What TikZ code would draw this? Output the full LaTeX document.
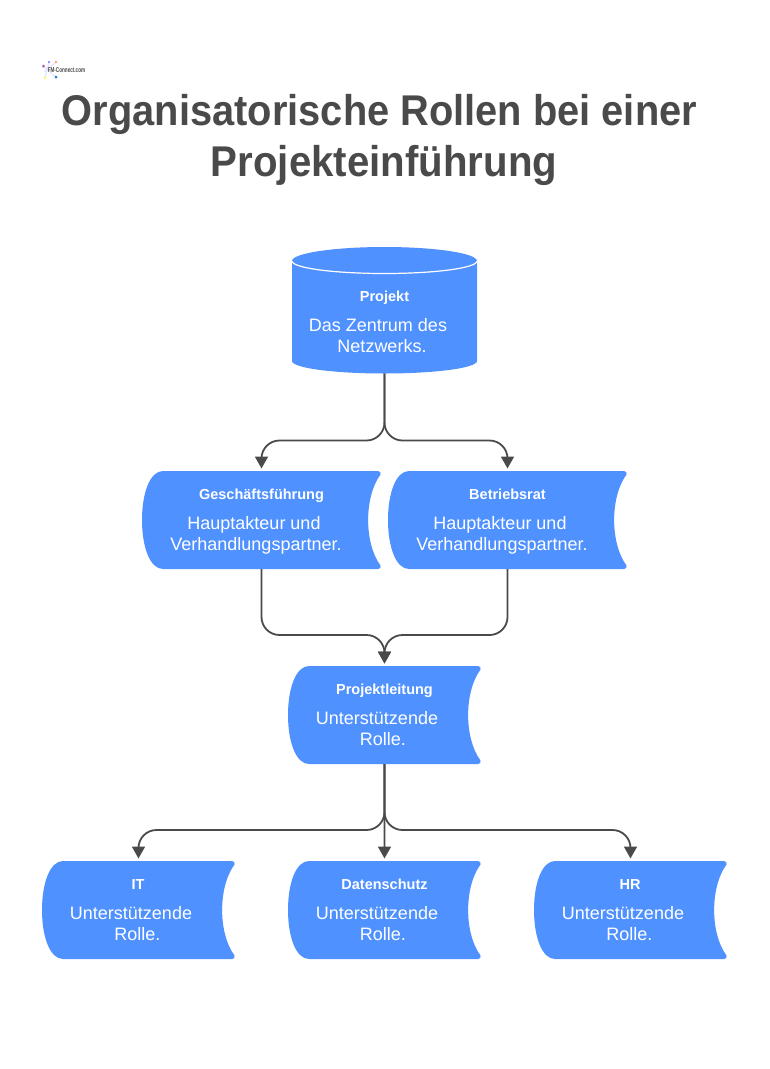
\documentclass[tikz,border=0pt]{standalone}
\usepackage{fontspec}
\usepackage{graphicx}
\setmainfont{Liberation Sans}
\usetikzlibrary{arrows.meta,calc}
\definecolor{boxblue}{HTML}{4F91FF}
\definecolor{ink}{HTML}{4A4A4A}
\tikzset{
  headline/.style={text=ink,font=\bfseries\fontsize{43}{50}\selectfont,inner sep=0pt,anchor=base},
  boxtitle/.style={text=white,font=\bfseries\fontsize{14.5}{17}\selectfont,inner sep=0pt,anchor=base},
  boxbody/.style={text=white,font=\fontsize{18}{21}\selectfont,inner sep=0pt,anchor=base},
  anchorbox/.style={inner sep=0pt,outer sep=0pt,minimum width=#1,minimum height=98pt},
  straightlink/.style={draw=ink,line width=1.8pt,shorten >=2.5pt,-{Triangle[length=12pt,width=13pt]}},
  link/.style={straightlink,rounded corners=18pt},
}
% #1 name, #2 left, #3 right, #4 top
\newcommand{\storedbox}[4]{%
  \pgfmathsetmacro{\xl}{#2}\pgfmathsetmacro{\xr}{#3}\pgfmathsetmacro{\yt}{#4}\pgfmathsetmacro{\yb}{#4+98}
  \fill[boxblue] (\xl+21,\yt) .. controls (\xl+8,\yt) and (\xl,\yt+22) .. (\xl,\yt+49)
    .. controls (\xl,\yt+76) and (\xl+8,\yb) .. (\xl+21,\yb)
    -- (\xr-3,\yb) .. controls (\xr-1,\yb) and (\xr+0.5,\yb-2) .. (\xr-0.5,\yb-3.5)
    .. controls (\xr-17,\yb-26) and (\xr-17,\yt+26) .. (\xr-0.5,\yt+3.5)
    .. controls (\xr+0.5,\yt+2) and (\xr-1,\yt) .. (\xr-3,\yt) -- cycle;
  \node[anchorbox=#3-#2 pt] (#1) at ({(#2+#3)/2},{#4+49}) {};
}
\begin{document}
\begin{tikzpicture}[x=1pt,y=-1pt]
\useasboundingbox (0,0) rectangle (769,1069);
\fill[white] (0,0) rectangle (769,1069);
% logo
\draw[blue!12,line width=1pt] (43,66) -- (56,77) (49,62) -- (45,78) (56,62) -- (44,72);
\fill[violet!65] (43.5,66) circle (1.5);
\fill[blue!55] (49,62) circle (1.2);
\fill[orange!50!red!50] (56,62) circle (1.3);
\fill[yellow!65] (45,78) circle (1.3);
\fill[cyan!65!blue] (56,77) circle (1.5);
\node[inner sep=0pt,text=ink,font=\bfseries\fontsize{7}{8}\selectfont] (logo) at (66.5,70) {\scalebox{.66}[1]{FM-Connect.com}};
% title
\node[headline] (t1) at (379.5,125) {\scalebox{.926}[1]{Organisatorische Rollen bei einer}};
\node[headline] (t2) at (384,176) {\scalebox{.935}[1]{Projekteinführung}};
% cylinder
\fill[boxblue] (292,261) arc[start angle=180,end angle=360,x radius=92.5,y radius=14]
  -- (477,361) arc[start angle=0,end angle=180,x radius=92.5,y radius=12.5] -- cycle;
\draw[white,line width=1.2pt] (292,261) arc[start angle=180,end angle=0,x radius=92.5,y radius=12.5];
\node[inner sep=0pt,outer sep=0pt,minimum width=185pt,minimum height=126pt] (p) at (384.5,310.5) {};
\node[boxtitle] (pt) at (384.5,301) {Projekt};
\node[boxbody] (pb1) at (378,331) {Das Zentrum des};
\node[boxbody] (pb2) at (382,352) {Netzwerks.};
% boxes
\storedbox{gf}{142}{381}{471}
\storedbox{br}{388}{627}{471}
\storedbox{pl}{288}{481}{666}
\storedbox{it}{42}{235}{861}
\storedbox{ds}{288}{481}{861}
\storedbox{hr}{534}{727}{861}
\foreach \n/\tt/\tx/\ax/\bx/\ay/\by/\ta/\tb/\ty in {
  gft/Geschäftsführung/261.5/254/256/529/550/Hauptakteur und/Verhandlungspartner./499,
  brt/Betriebsrat/507.5/500/502/529/550/Hauptakteur und/Verhandlungspartner./499,
  plt/Projektleitung/384.5/377/383/724/745/Unterstützende/Rolle./694,
  itt/IT/138/131/137.5/919/940/Unterstützende/Rolle./889,
  dst/Datenschutz/384.5/377/383/919/940/Unterstützende/Rolle./889,
  hrt/HR/630/623/629.5/919/940/Unterstützende/Rolle./889}{
  \node[boxtitle] (\n) at (\tx,\ty) {\tt};
  \node[boxbody] (\n a) at (\ax,\ay) {\ta};
  \node[boxbody] (\n b) at (\bx,\by) {\tb};
}
% connectors
\draw[link] (p.south) -- ++(0,67) -| (gf.north);
\draw[link] (p.south) -- ++(0,67) -| (br.north);
\draw[link] (gf.south) -- ++(0,66) -| (pl.north);
\draw[link] (br.south) -- ++(0,66) -| (pl.north);
\draw[link] (pl.south) -- ++(0,66) -| (it.north);
\draw[straightlink] (pl.south) -- ++(0.02,40) -- ++(-0.02,20) -- (ds.north);
\draw[link] (pl.south) -- ++(0,66) -| (hr.north);
\end{tikzpicture}
\end{document}
